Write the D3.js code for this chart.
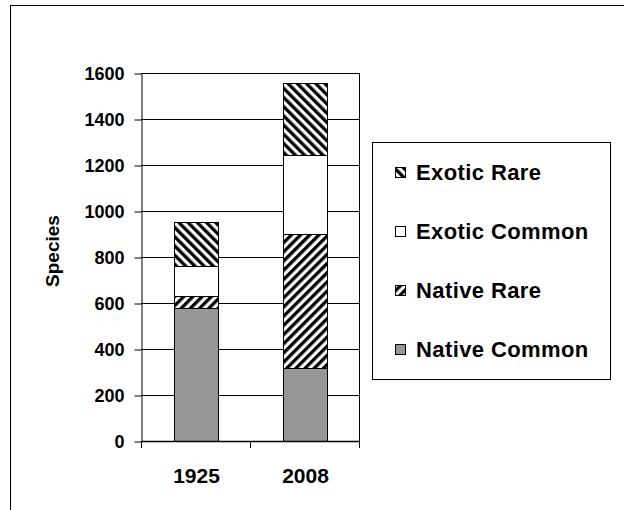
<!DOCTYPE html>
<meta charset="utf-8">
<script src="https://cdn.jsdelivr.net/npm/d3@7"></script>
<style>
body { margin: 0; background: #fff; }
text {
  font-family: "Liberation Sans", Arial, sans-serif;
  font-weight: bold;
  fill: #000;
}
.grid line { stroke: #000; stroke-width: 1px; }
</style>
<body>
<div id="chart"></div>
<script>
// data
var years = ["1925", "2008"];
var nativeCommon = [580, 316];
var nativeRare = [50, 584];
var exoticCommon = [130, 342];
var exoticRare = [192, 316];
var seriesNames = ["Native Common", "Native Rare", "Exotic Common", "Exotic Rare"];
var yTicks = [0, 200, 400, 600, 800, 1000, 1200, 1400, 1600];

var width = 624, height = 510;
var plot = {left: 141, right: 359, top: 73, bottom: 441};

var svg = d3.select("#chart").append("svg")
  .attr("width", width)
  .attr("height", height);

// hatch patterns
var defs = svg.append("defs");
function hatch(id, angle) {
  var p = defs.append("pattern")
    .attr("id", id)
    .attr("patternUnits", "userSpaceOnUse")
    .attr("width", 6.5)
    .attr("height", 6.5)
    .attr("patternTransform", "rotate(" + angle + ")");
  p.append("rect").attr("width", 6.5).attr("height", 6.5).attr("fill", "#fff");
  p.append("rect").attr("width", 3.3).attr("height", 6.5).attr("fill", "#000");
}
hatch("hatchBack", -45);   // "\" stripes
hatch("hatchFwd", 45);     // "/" stripes

var fills = {
  "Native Common": "#969696",
  "Native Rare": "url(#hatchFwd)",
  "Exotic Common": "#fff",
  "Exotic Rare": "url(#hatchBack)"
};

// outer chart border (runs off the right and bottom)
svg.append("rect")
  .attr("x", 10.5).attr("y", 5.5)
  .attr("width", 700).attr("height", 600)
  .attr("fill", "none").attr("stroke", "#000").attr("stroke-width", 1);

var x = d3.scaleBand()
  .domain(years)
  .range([plot.left, plot.right])
  .paddingInner(0.6)
  .paddingOuter(0.3);

var y = d3.scaleLinear()
  .domain([0, 1600])
  .range([plot.bottom, plot.top]);

// gridlines
svg.append("g").attr("class", "grid")
  .selectAll("line")
  .data(yTicks)
  .enter().append("line")
  .attr("x1", plot.left).attr("x2", plot.right)
  .attr("y1", function(d) { return Math.round(y(d)) + 0.5; })
  .attr("y2", function(d) { return Math.round(y(d)) + 0.5; });

// plot area right border
svg.append("line")
  .attr("x1", plot.right + 0.5).attr("x2", plot.right + 0.5)
  .attr("y1", plot.top).attr("y2", plot.bottom)
  .attr("stroke", "#000");

// stacked bars
var rows = years.map(function(yr, i) {
  return {year: yr, "Native Common": nativeCommon[i], "Native Rare": nativeRare[i],
          "Exotic Common": exoticCommon[i], "Exotic Rare": exoticRare[i]};
});
var stacked = d3.stack().keys(seriesNames)(rows);

svg.append("g")
  .selectAll("g")
  .data(stacked)
  .enter().append("g")
  .attr("fill", function(d) { return fills[d.key]; })
  .selectAll("rect")
  .data(function(d) { return d; })
  .enter().append("rect")
  .attr("x", function(d) { return Math.round(x(d.data.year)) + 0.5; })
  .attr("y", function(d) { return Math.round(y(d[1])) + 0.5; })
  .attr("width", Math.round(x.bandwidth()))
  .attr("height", function(d) { return Math.round(y(d[0])) - Math.round(y(d[1])); })
  .attr("stroke", "#000")
  .attr("stroke-width", 1);

// y axis
var yAxis = svg.append("g")
  .attr("transform", "translate(" + (plot.left + 0.5) + ",0.5)")
  .call(d3.axisLeft(y).tickValues(yTicks).tickFormat(d3.format("d"))
    .tickSize(7).tickPadding(10).tickSizeOuter(0));
yAxis.select(".domain").attr("stroke", "#000");
yAxis.selectAll("text").style("font-size", "18px").attr("font-family", null);

// x axis: ticks at the category edges
var xEdges = [plot.left, (plot.left + plot.right) / 2, plot.right];
var xAxisG = svg.append("g");
xAxisG.append("line")
  .attr("x1", plot.left).attr("x2", plot.right + 1)
  .attr("y1", plot.bottom + 0.5).attr("y2", plot.bottom + 0.5)
  .attr("stroke", "#000").attr("stroke-width", 1.5);
xAxisG.selectAll("line.tk")
  .data(xEdges)
  .enter().append("line")
  .attr("class", "tk")
  .attr("x1", function(d) { return Math.round(d) + 0.5; })
  .attr("x2", function(d) { return Math.round(d) + 0.5; })
  .attr("y1", plot.bottom).attr("y2", plot.bottom + 7)
  .attr("stroke", "#000");
xAxisG.selectAll("text")
  .data(years)
  .enter().append("text")
  .attr("x", function(d) { return x(d) + x.bandwidth() / 2 + 1; })
  .attr("y", 483)
  .attr("text-anchor", "middle")
  .style("font-size", "21px")
  .text(function(d) { return d; });

// y axis title
svg.append("text")
  .attr("transform", "translate(59,251) rotate(-90)")
  .attr("text-anchor", "middle")
  .style("font-size", "19px")
  .text("Species");

// legend
var legend = svg.append("g");
legend.append("rect")
  .attr("x", 372.5).attr("y", 142.5)
  .attr("width", 238).attr("height", 237)
  .attr("fill", "#fff").attr("stroke", "#000");

var legendOrder = seriesNames.slice().reverse();
var item = legend.selectAll("g.item")
  .data(legendOrder)
  .enter().append("g")
  .attr("class", "item")
  .attr("transform", function(d, i) { return "translate(395," + (180 + i * 59) + ")"; });
item.append("rect")
  .attr("x", 0.5).attr("y", -12.5)
  .attr("width", 10).attr("height", 10)
  .attr("fill", function(d) { return fills[d]; })
  .attr("stroke", "#000");
item.append("text")
  .attr("x", 21)
  .attr("y", 0)
  .style("font-size", "22px")
  .style("letter-spacing", "0.4px")
  .text(function(d) { return d; });
</script>
</body>
